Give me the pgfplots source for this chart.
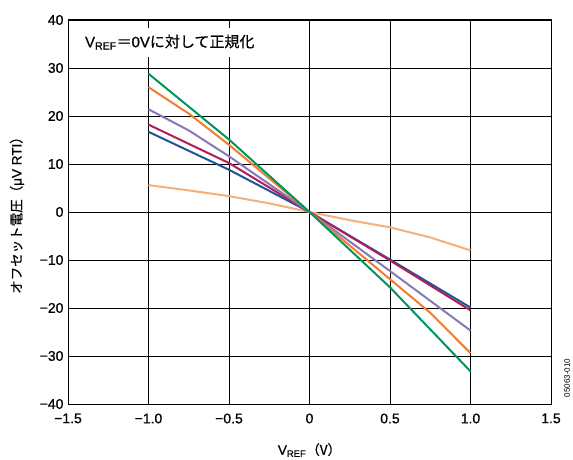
\documentclass[border=0pt]{standalone}
\usepackage{pgfplots}
\pgfplotsset{compat=1.18}
\usepackage{fontspec}
\setmainfont{Liberation Sans}
\newfontfamily\lat{Liberation Sans}[FakeBold=0.7]
\newfontfamily\cjk{Noto Sans CJK JP}[FakeBold=0.6]
\definecolor{cgreen}{RGB}{0,150,90}
\definecolor{corange}{RGB}{240,125,45}
\definecolor{cpurple}{RGB}{135,120,185}
\definecolor{cmagenta}{RGB}{175,30,90}
\definecolor{cblue}{RGB}{30,85,150}
\definecolor{clight}{RGB}{245,175,120}
\begin{document}
\begin{tikzpicture}
\begin{axis}[
  name=ax,
  scale only axis, width=483pt, height=384pt,
  xmin=-1.5, xmax=1.5, ymin=-40, ymax=40,
  xtick={-1.5,-1,-0.5,0,0.5,1,1.5},
  xticklabels={−1.5,−1.0,−0.5,0,0.5,1.0,1.5},
  ytick={-40,-30,-20,-10,0,10,20,30,40},
  yticklabels={−40,−30,−20,−10,0,10,20,30,40},
  major tick length=0pt,
  grid=major,
  major grid style={black, line width=0.9pt},
  axis line style={black, line width=1pt},
  tick label style={font=\lat\fontsize{14}{16}\selectfont},
  xticklabel style={yshift=-6pt},
  yticklabel style={xshift=-1pt},
  xlabel={V\textsubscript{REF}{\cjk（V）}},
  ylabel={{\cjk オフセット電圧（}μV RTI{\cjk ）}},
  label style={font=\lat\fontsize{13.5}{16}\selectfont},
  xlabel style={at={(axis description cs:0.5,-0.12)}, anchor=center},
  ylabel style={at={(axis description cs:-0.1056,0.5)}, anchor=center},
  every axis plot/.append style={line width=2pt, mark=none},
  clip=false,
]
\addplot[clight] coordinates {(-1,5.6) (-0.75,4.5) (-0.5,3.3) (-0.25,1.8) (0,0) (0.25,-1.7) (0.5,-3.2) (0.75,-5.3) (1,-8.0)};
\addplot[cblue] coordinates {(-1,16.7) (-0.5,8.8) (0,0) (0.5,-9.9) (1,-19.9)};
\addplot[cmagenta] coordinates {(-1,18.2) (-0.5,10.2) (0,0) (0.5,-10.1) (1,-20.5)};
\addplot[cpurple] coordinates {(-1,21.4) (-0.75,17.0) (-0.5,11.6) (0,0) (0.5,-12.3) (1,-24.7)};
\addplot[corange] coordinates {(-1,26.0) (-0.75,20.5) (-0.5,14.0) (0,0) (0.5,-14.0) (0.75,-21.0) (1,-29.4)};
\addplot[cgreen] coordinates {(-1,28.8) (-0.5,15.1) (0,0) (0.5,-15.7) (1,-33.2)};
\node[anchor=west, fill=white, inner xsep=4pt, inner ysep=7pt, font=\lat\fontsize{15}{17}\selectfont] at (axis cs:-1.42,35.4) {V\textsubscript{REF}{\cjk ＝}0V{\cjk に対して正規化}};
\node[rotate=90, font=\fontsize{8}{9}\selectfont, anchor=center] at ([xshift=16pt]axis cs:1.5,-34.6) {05063-010};
\end{axis}
\pgfresetboundingbox
\path[use as bounding box] ([shift={(-68pt,-55pt)}]ax.south west) rectangle ([shift={(22pt,20pt)}]ax.north east);
\end{tikzpicture}
\end{document}
